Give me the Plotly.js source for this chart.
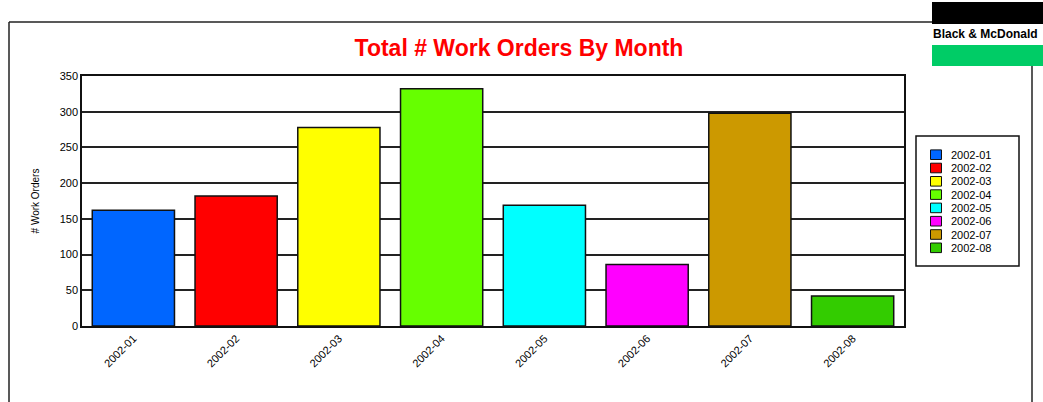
<!DOCTYPE html>
<html>
<head>
<meta charset="utf-8">
<script src="https://cdn.plot.ly/plotly-3.0.1.min.js"></script>
<style>html,body{margin:0;padding:0;background:#fff;}#chart{width:1043px;height:402px;}</style>
</head>
<body>
<div id="chart"></div>
<script>
// ---- data ----
const months = ["2002-01","2002-02","2002-03","2002-04","2002-05","2002-06","2002-07","2002-08"];
const tickLabels = ["2002-01","2002-02","2002-03","2002-04","2002-05","2002-06","2002-07","2002-08"];
const workOrders = [162, 182, 278, 332, 169, 86, 298, 42];
const barColors = ["#0066ff","#ff0000","#ffff00","#66ff00","#00ffff","#ff00ff","#cc9900","#33cc00"];
const chartTitle = "Total # Work Orders By Month";
const yTitle = "# Work Orders";
const logoText = "Black & McDonald";

// ---- layout helpers (pixel -> paper) ----
const L = 82, R = 904, T = 76, B = 326;
const px = x => (x - L) / (R - L);
const py = y => (B - y) / (B - T);
const FONT = "Liberation Sans Narrow, Arial Narrow, Liberation Sans, Arial, sans-serif";

const traces = months.map((m, i) => ({
  type: "bar",
  x: [m],
  y: [workOrders[i]],
  name: m,
  marker: { color: barColors[i], line: { color: "#111", width: 1.5 } },
  hoverinfo: "x+y"
}));

const shapes = [
  // outer frame
  { type: "line", xref: "paper", yref: "paper", x0: px(9), x1: px(932), y0: py(22), y1: py(22), line: { color: "#222", width: 1.5 } },
  { type: "line", xref: "paper", yref: "paper", x0: px(9), x1: px(9), y0: py(22), y1: py(402), line: { color: "#222", width: 1.5 } },
  { type: "line", xref: "paper", yref: "paper", x0: px(1032), x1: px(1032), y0: py(66), y1: py(402), line: { color: "#222", width: 1.5 } },
  // logo blocks
  { type: "rect", xref: "paper", yref: "paper", x0: px(932), x1: px(1045), y0: py(2), y1: py(24), fillcolor: "#000", line: { width: 0 } },
  { type: "rect", xref: "paper", yref: "paper", x0: px(932), x1: px(1045), y0: py(45), y1: py(66), fillcolor: "#00cc66", line: { width: 0 } },
  // legend box
  { type: "rect", xref: "paper", yref: "paper", x0: px(916), x1: px(1019), y0: py(136), y1: py(266), fillcolor: "rgba(0,0,0,0)", line: { color: "#111", width: 1.5 } }
];

const annotations = [
  { xref: "paper", yref: "paper", x: px(931), y: py(34), xanchor: "left", yanchor: "middle", showarrow: false,
    text: "<b>" + logoText + "</b>", font: { family: FONT, size: 12, color: "#000" } }
];

months.forEach((m, i) => {
  const cy = 154.7 + i * 13.3;
  shapes.push({ type: "rect", xref: "paper", yref: "paper", x0: px(930.5), x1: px(941.5), y0: py(cy - 4.8), y1: py(cy + 4.8),
    fillcolor: barColors[i], line: { color: "#111", width: 1 } });
  annotations.push({ xref: "paper", yref: "paper", x: px(949), y: py(cy), xanchor: "left", yanchor: "middle", showarrow: false,
    text: m, font: { family: FONT, size: 11, color: "#000" } });
});

const layout = {
  width: 1043, height: 402,
  margin: { l: L, r: 1043 - R, t: T, b: 402 - B, pad: 0 },
  paper_bgcolor: "#fff", plot_bgcolor: "#fff",
  showlegend: false,
  bargap: 0.2,
  barmode: "relative",
  title: { text: chartTitle, x: 519 / 1043, xref: "container", xanchor: "center", y: 1 - 48 / 402, yref: "container", yanchor: "middle",
    font: { family: FONT, size: 23, color: "#ff0000", weight: "bold" } },
  font: { family: FONT, size: 10, color: "#000" },
  xaxis: { type: "category", categoryorder: "array", categoryarray: months, tickvals: months, ticktext: tickLabels,
    tickangle: -45, showline: true, mirror: true, linecolor: "#111", linewidth: 1.5, ticks: "", showgrid: false,
    tickfont: { size: 11 }, fixedrange: true },
  yaxis: { range: [0, 350], dtick: 50, tick0: 0, showline: true, mirror: true, linecolor: "#111", linewidth: 1.5,
    gridcolor: "#222", gridwidth: 1.5, zeroline: false, ticks: "", tickfont: { size: 11 },
    title: { text: yTitle, font: { size: 10 }, standoff: 18 }, fixedrange: true },
  shapes: shapes,
  annotations: annotations
};

Plotly.newPlot("chart", traces, layout, { displayModeBar: false });
</script>
</body>
</html>
